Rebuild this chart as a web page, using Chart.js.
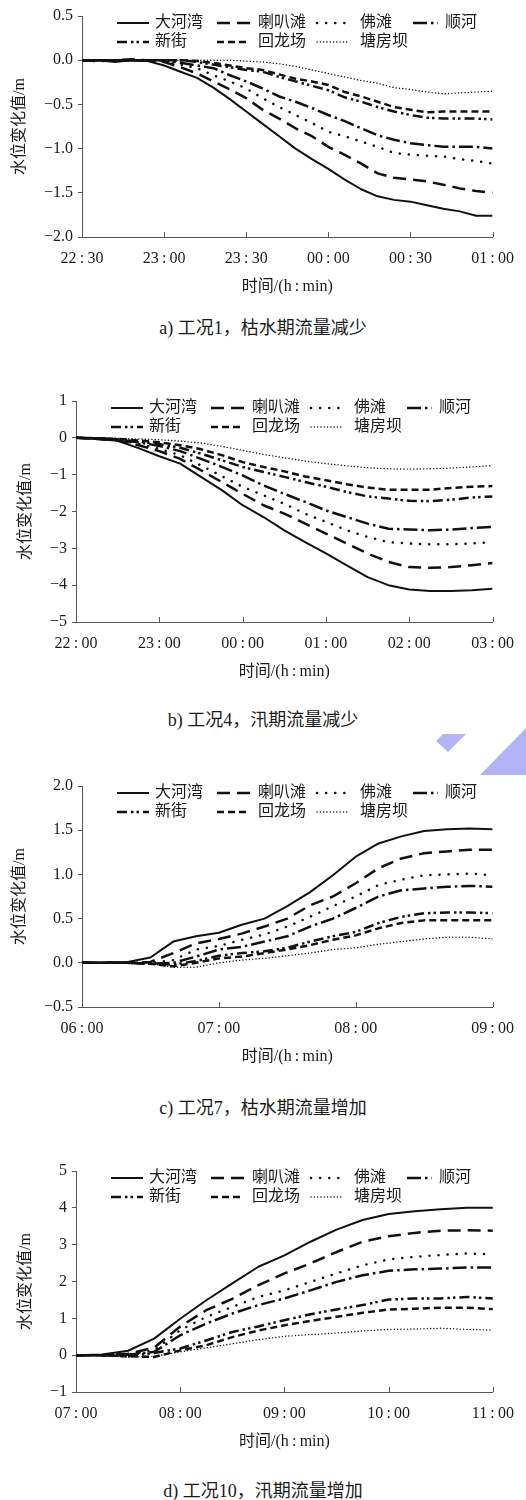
<!DOCTYPE html>
<html>
<head>
<meta charset="utf-8">
<script src="https://cdn.jsdelivr.net/npm/chart.js@4.4.0/dist/chart.umd.min.js"></script>
<style>
  body { margin: 0; background: #fff; width: 526px; height: 1500px; position: relative; overflow: hidden; }
  canvas { position: absolute; left: 0; }
  .cap { position: absolute; left: 0; width: 526px; text-align: center; line-height: 24px;
         font: 18px "Liberation Serif", "Noto Sans CJK SC"; color: #1a1a1a; }
  .mark { position: absolute; background: #b3b3f7; }
</style>
</head>
<body>
<canvas id="chartA" width="526" height="300" style="top:0px"></canvas>
<div class="cap" style="top:313px">a) 工况1，枯水期流量减少</div>

<canvas id="chartB" width="526" height="305" style="top:380px"></canvas>
<div class="cap" style="top:705px">b) 工况4，汛期流量减少</div>

<div class="mark" style="left:436px;top:734px;width:30px;height:18px;clip-path:polygon(7px 0,30px 0,12px 18px,0 7px)"></div>
<div class="mark" style="left:480px;top:728px;width:46px;height:47px;clip-path:polygon(46px 0,46px 47px,0 47px)"></div>

<canvas id="chartC" width="526" height="310" style="top:760px"></canvas>
<div class="cap" style="top:1093px">c) 工况7，枯水期流量增加</div>

<canvas id="chartD" width="526" height="305" style="top:1150px"></canvas>
<div class="cap" style="top:1476px">d) 工况10，汛期流量增加</div>

<script>
const stations = ["大河湾", "喇叭滩", "佛滩", "顺河", "新街", "回龙场", "塘房坝"];

// a) 22:30 - 01:00, minutes from start
const tA = [0, 6, 12, 18, 24, 30, 36, 42, 48, 54, 60, 66, 72, 78, 84, 90, 96, 102, 108, 114, 120, 126, 132, 138, 144, 150];
const xLabelsA = ["22:30", "23:00", "23:30", "00:00", "00:30", "01:00"];
const aDhw = [-0.01, 0, -0.02, 0, -0.01, -0.06, -0.13, -0.20, -0.31, -0.44, -0.58, -0.72, -0.86, -1.00, -1.12, -1.23, -1.35, -1.46, -1.54, -1.58, -1.60, -1.64, -1.68, -1.71, -1.76, -1.76];
const aLbt = [0, -0.01, 0, 0.01, 0, -0.02, -0.08, -0.15, -0.24, -0.33, -0.43, -0.56, -0.66, -0.77, -0.86, -0.98, -1.07, -1.17, -1.28, -1.33, -1.35, -1.37, -1.41, -1.45, -1.48, -1.50];
const aFt  = [0, 0, 0, 0, 0, -0.01, -0.05, -0.09, -0.17, -0.24, -0.32, -0.43, -0.53, -0.62, -0.71, -0.81, -0.86, -0.92, -0.98, -1.05, -1.07, -1.08, -1.09, -1.12, -1.14, -1.17];
const aSh  = [0, 0, 0, 0, 0, 0, -0.03, -0.06, -0.09, -0.17, -0.24, -0.32, -0.41, -0.47, -0.54, -0.62, -0.69, -0.77, -0.85, -0.90, -0.94, -0.96, -0.98, -0.98, -0.98, -1.00];
const aXj  = [0, 0, 0, 0, 0, 0, 0, -0.02, -0.05, -0.08, -0.11, -0.13, -0.19, -0.24, -0.29, -0.34, -0.42, -0.47, -0.53, -0.58, -0.62, -0.65, -0.66, -0.66, -0.66, -0.67];
const aHlc = [0, 0, 0, 0, 0, 0, 0, -0.01, -0.03, -0.06, -0.09, -0.11, -0.16, -0.21, -0.24, -0.28, -0.36, -0.41, -0.47, -0.53, -0.56, -0.59, -0.58, -0.58, -0.58, -0.58];
const aTfb = [0, 0, 0, 0, 0, 0, 0, 0, 0, 0, -0.01, -0.02, -0.04, -0.07, -0.11, -0.15, -0.19, -0.23, -0.26, -0.31, -0.33, -0.36, -0.38, -0.37, -0.36, -0.35];

// b) 22:00 - 03:00
const tB = [0, 15, 30, 45, 60, 75, 90, 105, 120, 135, 150, 165, 180, 195, 210, 225, 240, 255, 270, 285, 300];
const xLabelsB = ["22:00", "23:00", "00:00", "01:00", "02:00", "03:00"];
const bDhw = [0, -0.03, -0.08, -0.28, -0.50, -0.70, -1.06, -1.42, -1.83, -2.15, -2.51, -2.83, -3.14, -3.46, -3.78, -4.00, -4.12, -4.16, -4.16, -4.14, -4.10];
const bLbt = [0, -0.03, -0.07, -0.20, -0.36, -0.57, -0.88, -1.20, -1.52, -1.83, -2.06, -2.33, -2.60, -2.87, -3.14, -3.37, -3.51, -3.53, -3.51, -3.46, -3.40];
const bFt  = [0, -0.02, -0.06, -0.16, -0.30, -0.47, -0.75, -1.04, -1.33, -1.56, -1.79, -2.06, -2.28, -2.51, -2.69, -2.83, -2.87, -2.89, -2.89, -2.87, -2.83];
const bSh  = [0, -0.02, -0.05, -0.12, -0.22, -0.36, -0.57, -0.79, -1.02, -1.29, -1.52, -1.74, -1.97, -2.15, -2.33, -2.47, -2.49, -2.51, -2.49, -2.45, -2.42];
const bXj  = [0, -0.01, -0.04, -0.10, -0.17, -0.27, -0.43, -0.61, -0.79, -0.93, -1.06, -1.20, -1.33, -1.47, -1.59, -1.65, -1.71, -1.72, -1.68, -1.62, -1.59];
const bHlc = [0, -0.01, -0.03, -0.07, -0.12, -0.20, -0.31, -0.47, -0.66, -0.79, -0.91, -1.05, -1.15, -1.26, -1.35, -1.41, -1.41, -1.41, -1.36, -1.33, -1.31];
const bTfb = [0, 0, -0.01, -0.03, -0.05, -0.09, -0.14, -0.23, -0.34, -0.45, -0.54, -0.63, -0.70, -0.76, -0.81, -0.84, -0.85, -0.84, -0.82, -0.79, -0.75];

// c) 06:00 - 09:00
const tC = [0, 10, 20, 30, 40, 50, 60, 70, 80, 90, 100, 110, 120, 130, 140, 150, 160, 170, 180];
const xLabelsC = ["06:00", "07:00", "08:00", "09:00"];
const cDhw = [0, 0, 0.01, 0.06, 0.24, 0.30, 0.34, 0.43, 0.50, 0.64, 0.80, 0.99, 1.20, 1.35, 1.43, 1.49, 1.51, 1.52, 1.51];
const cLbt = [0, 0, 0, 0.01, 0.11, 0.22, 0.27, 0.33, 0.41, 0.50, 0.65, 0.75, 0.90, 1.07, 1.18, 1.24, 1.26, 1.28, 1.28];
const cFt  = [0, 0, 0, 0, 0.03, 0.15, 0.19, 0.26, 0.32, 0.41, 0.52, 0.64, 0.75, 0.88, 0.94, 0.99, 1.00, 1.01, 0.99];
const cSh  = [0, 0, 0, -0.01, 0, 0.07, 0.15, 0.18, 0.24, 0.30, 0.41, 0.50, 0.62, 0.75, 0.82, 0.84, 0.86, 0.87, 0.86];
const cXj  = [0, 0, 0, -0.01, -0.02, 0.02, 0.08, 0.11, 0.13, 0.17, 0.24, 0.30, 0.35, 0.45, 0.52, 0.56, 0.57, 0.57, 0.56];
const cHlc = [0, 0, 0, -0.01, -0.04, 0, 0.05, 0.07, 0.11, 0.15, 0.20, 0.26, 0.31, 0.39, 0.45, 0.48, 0.48, 0.48, 0.48];
const cTfb = [0, 0, 0, -0.01, -0.05, -0.05, 0, 0.03, 0.05, 0.08, 0.11, 0.15, 0.17, 0.21, 0.24, 0.27, 0.29, 0.29, 0.27];

// d) 07:00 - 11:00
const tD = [0, 15, 30, 45, 60, 75, 90, 105, 120, 135, 150, 165, 180, 195, 210, 225, 240];
const xLabelsD = ["07:00", "08:00", "09:00", "10:00", "11:00"];
const dDhw = [0, 0.02, 0.12, 0.45, 0.99, 1.49, 1.95, 2.40, 2.71, 3.08, 3.41, 3.67, 3.83, 3.91, 3.96, 4.00, 4.00];
const dLbt = [0, 0, 0.04, 0.20, 0.78, 1.22, 1.53, 1.90, 2.22, 2.49, 2.80, 3.08, 3.23, 3.32, 3.38, 3.39, 3.38];
const dFt  = [0, 0, 0.02, 0.13, 0.68, 1.04, 1.31, 1.58, 1.76, 1.99, 2.22, 2.44, 2.60, 2.67, 2.72, 2.76, 2.74];
const dSh  = [0, 0, 0.01, 0.09, 0.54, 0.86, 1.13, 1.36, 1.54, 1.76, 1.99, 2.17, 2.29, 2.33, 2.35, 2.38, 2.38];
const dXj  = [0, 0, -0.03, 0.06, 0.18, 0.40, 0.63, 0.78, 0.95, 1.11, 1.24, 1.36, 1.51, 1.54, 1.54, 1.58, 1.54];
const dHlc = [0, 0, -0.03, -0.05, 0.13, 0.27, 0.49, 0.67, 0.81, 0.93, 1.04, 1.15, 1.24, 1.26, 1.29, 1.29, 1.25];
const dTfb = [0, 0, -0.05, -0.03, 0.09, 0.20, 0.31, 0.42, 0.51, 0.56, 0.60, 0.66, 0.70, 0.71, 0.73, 0.70, 0.68];

// one line style per station, same in all four panels
const lineStyles = [
  { width: 2,   dash: [],                     cap: "butt" },
  { width: 2.5, dash: [13, 7],                cap: "butt" },
  { width: 2.5, dash: [0.1, 9],               cap: "round" },
  { width: 2.5, dash: [14, 4, 2.5, 4],        cap: "butt" },
  { width: 2.5, dash: [10, 4, 2.5, 3, 2.5, 4], cap: "butt" },
  { width: 2.5, dash: [7, 4],                 cap: "butt" },
  { width: 1.4, dash: [0.1, 3.2],             cap: "round" }
];

const serif = '"Liberation Serif", "Noto Sans CJK SC"';
const axisColor = "#555";
const textColor = "#1a1a1a";

function clock(s) {
  return s.replace(":", "\u2009:\u2009");
}

const stationLegend = {
  id: "stationLegend",
  afterDraw(chart) {
    const { ctx, chartArea } = chart;
    const cols = [35, 135, 235, 331];
    const lens = [32, 33, 33, 25];
    const textOff = [38, 41, 43, 32];
    ctx.save();
    ctx.font = "16px " + serif;
    ctx.textBaseline = "middle";
    chart.data.datasets.forEach((ds, i) => {
      const col = i % 4;
      const row = i < 4 ? 0 : 1;
      const x = chartArea.left + cols[col];
      const y = chartArea.top + 7 + row * 19;
      ctx.beginPath();
      ctx.setLineDash(ds.borderDash);
      ctx.lineWidth = ds.borderWidth;
      ctx.lineCap = ds.borderCapStyle;
      ctx.strokeStyle = ds.borderColor;
      ctx.moveTo(x, y);
      ctx.lineTo(x + lens[col], y);
      ctx.stroke();
      ctx.setLineDash([]);
      ctx.fillStyle = textColor;
      ctx.fillText(ds.label, x + textOff[col], y);
    });
    ctx.restore();
  }
};

// x ticks point into the plot
const innerTicks = {
  id: "innerTicks",
  afterDatasetsDraw(chart) {
    const { ctx, chartArea } = chart;
    const xs = chart.scales.x;
    ctx.save();
    ctx.strokeStyle = axisColor;
    ctx.lineWidth = 1;
    xs.ticks.forEach(t => {
      const px = Math.round(xs.getPixelForValue(t.value)) + 0.5;
      ctx.beginPath();
      ctx.moveTo(px, chartArea.bottom);
      ctx.lineTo(px, chartArea.bottom - 5);
      ctx.stroke();
    });
    ctx.restore();
  }
};

function makeChart(id, p) {
  const ctx = document.getElementById(id).getContext("2d");
  return new Chart(ctx, {
    type: "line",
    data: {
      datasets: p.series.map((vals, i) => ({
        label: stations[i],
        data: vals.map((v, k) => ({ x: p.times[k], y: v })),
        borderColor: "#111",
        borderWidth: lineStyles[i].width,
        borderDash: lineStyles[i].dash,
        borderCapStyle: lineStyles[i].cap,
        borderJoinStyle: "round",
        pointRadius: 0,
        tension: 0,
        fill: false
      }))
    },
    options: {
      responsive: false,
      animation: false,
      devicePixelRatio: 1,
      layout: { padding: { top: p.top, left: p.left, right: p.right, bottom: 0 } },
      plugins: { legend: { display: false }, tooltip: { enabled: false } },
      scales: {
        x: {
          type: "linear",
          min: 0,
          max: p.times[p.times.length - 1],
          afterFit: s => { s.height = 63; },
          border: { color: axisColor, width: 1 },
          grid: { display: true, drawOnChartArea: false, drawTicks: false },
          ticks: {
            stepSize: p.xStep,
            autoSkip: false,
            maxRotation: 0,
            padding: 12,
            color: textColor,
            font: { family: serif, size: 16 },
            callback: (v, i) => clock(p.xLabels[i] || "")
          },
          title: {
            display: true,
            text: "时间/(h\u2009:\u2009min)",
            color: textColor,
            font: { family: serif, size: 16 },
            padding: { top: 0, bottom: 4 }
          }
        },
        y: {
          min: p.yMin,
          max: p.yMax,
          afterFit: s => { s.width = p.yWidth; },
          border: { color: axisColor, width: 1 },
          grid: { drawOnChartArea: false, drawTicks: true, tickLength: 4, color: axisColor },
          ticks: {
            stepSize: p.yStep,
            padding: 5,
            color: textColor,
            font: { family: serif, size: 16 },
            callback: v => v.toFixed(p.dec).replace("-", "\u2212")
          },
          title: {
            display: true,
            text: "水位变化值/m",
            color: textColor,
            font: { family: serif, size: 16 },
            padding: { top: 10, bottom: 0 }
          }
        }
      }
    },
    plugins: [innerTicks, stationLegend]
  });
}

makeChart("chartA", {
  times: tA, series: [aDhw, aLbt, aFt, aSh, aXj, aHlc, aTfb], xLabels: xLabelsA, xStep: 30,
  yMin: -2, yMax: 0.5, yStep: 0.5, dec: 1, top: 16, left: 0, right: 27, yWidth: 82
});
makeChart("chartB", {
  times: tB, series: [bDhw, bLbt, bFt, bSh, bXj, bHlc, bTfb], xLabels: xLabelsB, xStep: 60,
  yMin: -5, yMax: 1, yStep: 1, dec: 0, top: 21, left: 6, right: 33, yWidth: 70
});
makeChart("chartC", {
  times: tC, series: [cDhw, cLbt, cFt, cSh, cXj, cHlc, cTfb], xLabels: xLabelsC, xStep: 60,
  yMin: -0.5, yMax: 2, yStep: 0.5, dec: 1, top: 26, left: 0, right: 27, yWidth: 82
});
makeChart("chartD", {
  times: tD, series: [dDhw, dLbt, dFt, dSh, dXj, dHlc, dTfb], xLabels: xLabelsD, xStep: 60,
  yMin: -1, yMax: 5, yStep: 1, dec: 0, top: 21, left: 6, right: 33, yWidth: 70
});
</script>
</body>
</html>
